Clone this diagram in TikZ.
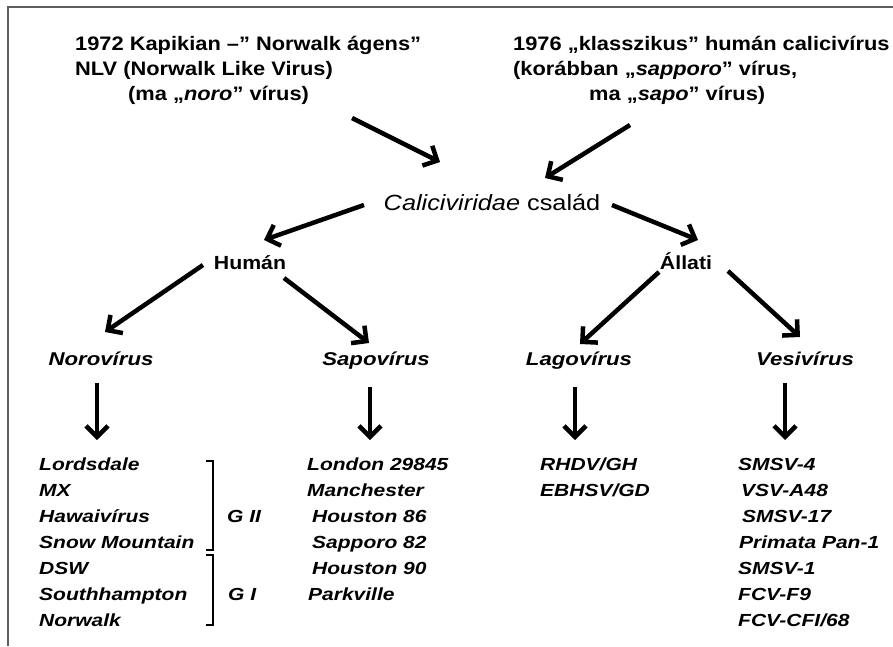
\documentclass[tikz,border=0pt]{standalone}
\usepackage{fontspec}
\usetikzlibrary{arrows.meta}
\setmainfont{Liberation Sans}
\newfontfamily\ttlfont[FakeStretch=1.12]{Liberation Sans}
\newfontfamily\midfont[FakeStretch=1.15]{Liberation Sans}
\newfontfamily\lstfont[FakeStretch=1.2]{Liberation Sans}
\definecolor{framegray}{HTML}{5E5E5E}
\tikzset{
  ttl/.style={font=\ttlfont\bfseries\fontsize{19.5}{25}\selectfont, anchor=base west, inner sep=0pt},
  fam/.style={font=\midfont\fontsize{22}{26}\selectfont, anchor=base, inner sep=0pt},
  grp/.style={font=\ttlfont\bfseries\fontsize{19}{23}\selectfont, anchor=base, inner sep=0pt},
  gen/.style={font=\lstfont\bfseries\itshape\fontsize{18.5}{22}\selectfont, anchor=base, inner sep=0pt},
  lst/.style={font=\lstfont\bfseries\itshape\fontsize{17.5}{26}\selectfont, anchor=base west, inner sep=0pt},
  arr/.style={line width=4.5pt, -{Straight Barb[length=11pt,width=22pt]}},
  brk/.style={line width=2.8pt},
  frm/.style={draw=framegray, line width=2pt}
}
\begin{document}
\begin{tikzpicture}[x=1pt,y=-1pt]
\useasboundingbox[fill=white] (0,0) rectangle (893,646);
% frame
\draw[frm] (893,7) -- (7.5,7) -- (7.5,646);
% titles
\node[ttl] (l1) at (75,50) {1972 Kapikian –” Norwalk ágens”};
\node[ttl] (l2) at (75,75) {NLV (Norwalk Like Virus)};
\node[ttl] (l3) at (128,100) {(ma „\textit{noro}” vírus)};
\node[ttl] (r1) at (513,50) {1976 „klasszikus” humán calicivírus};
\node[ttl] (r2) at (513,75) {(korábban „\textit{sapporo}” vírus,};
\node[ttl] (r3) at (589,100) {ma „\textit{sapo}” vírus)};
% family
\node[fam] (cal) at (492,210) {\textit{Caliciviridae} család};
\node[grp] (hum) at (250,269) {Humán};
\node[grp] (all) at (686,269) {Állati};
% genera
\node[gen] (noro) at (101,365) {Norovírus};
\node[gen] (sapo) at (376,365) {Sapovírus};
\node[gen] (lago) at (579,365) {Lagovírus};
\node[gen] (vesi) at (805,365) {Vesivírus};
% arrow end points
\coordinate (a1s) at (352,118); \coordinate (a1e) at (440,162);
\coordinate (a2s) at (630,125); \coordinate (a2e) at (545,178);
\coordinate (a3s) at (364,205); \coordinate (a3e) at (264,240);
\coordinate (a4s) at (612,205); \coordinate (a4e) at (698,240);
\coordinate (a5s) at (203,265); \coordinate (a5e) at (105,332);
\coordinate (a6s) at (284,278); \coordinate (a6e) at (369,343);
\coordinate (a7s) at (659,272); \coordinate (a7e) at (580,344);
\coordinate (a8s) at (728,271); \coordinate (a8e) at (800,337);
\draw[arr] (a1s) -- (a1e);
\draw[arr] (a2s) -- (a2e);
\draw[arr] (a3s) -- (a3e);
\draw[arr] (a4s) -- (a4e);
\draw[arr] (a5s) -- (a5e);
\draw[arr] (a6s) -- (a6e);
\draw[arr] (a7s) -- (a7e);
\draw[arr] (a8s) -- (a8e);
% down arrows
\coordinate (d1e) at (97,440); \coordinate (d2e) at (370,440);
\coordinate (d3e) at (575,440); \coordinate (d4e) at (785,440);
\draw[arr] (noro.south -| d1e) ++(0,18) -- (d1e);
\draw[arr] (sapo.south -| d2e) ++(0,18) -- (d2e);
\draw[arr] (lago.south -| d3e) ++(0,18) -- (d3e);
\draw[arr] (vesi.south -| d4e) ++(0,18) -- (d4e);
% lists
\foreach \t [count=\i] in {Lordsdale,MX,Hawaivírus,Snow Mountain,DSW,Southhampton,Norwalk}
  \node[lst] (n\i) at (39,444+26*\i) {\t};
\foreach \xx/\t [count=\i] in {307/London 29845,307/Manchester,312/Houston 86,312/Sapporo 82,312/Houston 90,308/Parkville}
  \node[lst] (s\i) at (\xx,444+26*\i) {\t};
\node[lst] (g1) at (540,470) {RHDV/GH};
\node[lst] (g2) at (540,496) {EBHSV/GD};
\node[lst] (v1) at (738,470) {SMSV-4};
\node[lst] (v2) at (741,496) {VSV-A48};
\node[lst] (v3) at (742,522) {SMSV-17};
\node[lst] (v4) at (739,548) {Primata Pan-1};
\node[lst] (v5) at (738,574) {SMSV-1};
\node[lst] (v6) at (738,600) {FCV-F9};
\node[lst] (v7) at (738,626) {FCV-CFI/68};
% brackets
\draw[brk] (206,461) -- (213,461) -- (213,550) -- (206,550);
\draw[brk] (206,555) -- (213,555) -- (213,625) -- (206,625);
\node[lst] (gii) at (227,522) {G II};
\node[lst] (gi) at (228,600) {G I};
\end{tikzpicture}
\end{document}
